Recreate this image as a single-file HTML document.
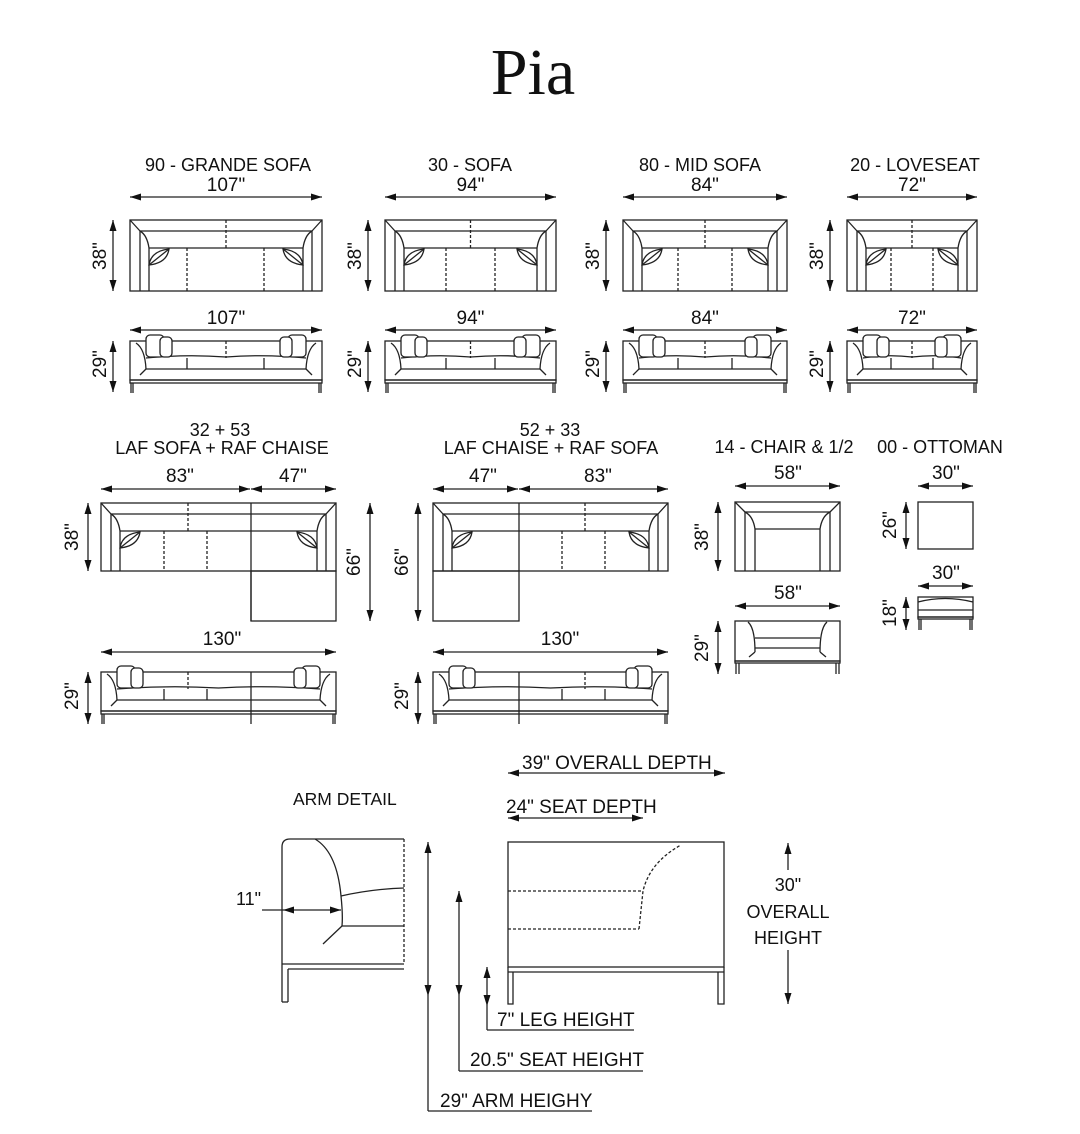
<!DOCTYPE html>
<html><head><meta charset="utf-8"><style>
html,body{margin:0;padding:0;background:#fff;width:1080px;height:1134px;overflow:hidden}
svg{display:block}
text{font-family:"Liberation Sans",sans-serif;fill:#111}
</style></head><body>
<svg id="s" width="1080" height="1134" viewBox="0 0 1080 1134" xmlns="http://www.w3.org/2000/svg">
<text x="533" y="94" text-anchor="middle" style="font-family:'Liberation Serif',serif;font-size:66px">Pia</text>
<g font-size="18" text-anchor="middle">
<text x="228" y="171">90 - GRANDE SOFA</text>
<text x="470" y="171">30 - SOFA</text>
<text x="700" y="171">80 - MID SOFA</text>
<text x="915" y="171">20 - LOVESEAT</text>
<text x="220" y="436">32 + 53</text>
<text x="222" y="454">LAF SOFA + RAF CHAISE</text>
<text x="550" y="436">52 + 33</text>
<text x="551" y="454">LAF CHAISE + RAF SOFA</text>
<text x="784" y="453">14 - CHAIR &amp; 1/2</text>
<text x="940" y="453">00 - OTTOMAN</text>
</g>
<g font-size="19" text-anchor="start">
<text x="293" y="805" font-size="17.5">ARM DETAIL</text>
<text x="522" y="769">39" OVERALL DEPTH</text>
<text x="506" y="813">24" SEAT DEPTH</text>
<text x="236" y="905" font-size="18">11"</text>
<text x="497" y="1026">7" LEG HEIGHT</text>
<text x="470" y="1066">20.5" SEAT HEIGHT</text>
<text x="440" y="1107">29" ARM HEIGHY</text>
<text x="788" y="891" text-anchor="middle" font-size="18">30"</text>
<text x="788" y="918" text-anchor="middle" font-size="18">OVERALL</text>
<text x="788" y="944" text-anchor="middle" font-size="18">HEIGHT</text>
</g>
<g id="d" stroke="#222" stroke-width="1.3" fill="none"></g>
</svg>
<script>
(function(){
var g=document.getElementById('d'),S=document.getElementById('s'),NS='http://www.w3.org/2000/svg';
function el(t,a,p){var e=document.createElementNS(NS,t);for(var k in a)e.setAttribute(k,a[k]);(p||g).appendChild(e);return e;}
function L(x1,y1,x2,y2,dash){var a={x1:x1,y1:y1,x2:x2,y2:y2};if(dash)a['stroke-dasharray']='3,2';el('line',a);}
function P(d,dash,f){var a={d:d};if(dash)a['stroke-dasharray']='3,2';if(f){a.fill='#111';a.stroke='none';}el('path',a);}
function R(x,y,w,h){el('rect',{x:x,y:y,width:w,height:h});}
function head(x,y,dx,dy){var l=11,w=3.5;var px=-dy,py=dx;P('M'+x+','+y+'L'+(x-dx*l+px*w)+','+(y-dy*l+py*w)+'L'+(x-dx*l-px*w)+','+(y-dy*l-py*w)+'Z',0,1);}
function HA(x1,x2,y){L(x1,y,x2,y);head(x1,y,-1,0);head(x2,y,1,0);}
function VA(x,y1,y2){L(x,y1,x,y2);head(x,y1,0,-1);head(x,y2,0,1);}
function T(x,y,s,rot,size){var a={x:x,y:y,'text-anchor':'middle','font-size':size||19};if(rot)a.transform='rotate(-90 '+x+' '+y+')';var t=el('text',a,S);t.textContent=s;}
function pillow(cx,cy,flip){var s=flip?-1:1;P('M'+(cx-10*s)+','+(cy+8)+'Q'+(cx-8*s)+','+(cy-6)+' '+(cx+10*s)+','+(cy-8)+'Q'+(cx+8*s)+','+(cy+6)+' '+(cx-10*s)+','+(cy+8)+'Z');P('M'+(cx-10*s)+','+(cy+8)+'L'+(cx+10*s)+','+(cy-8));}
function puff(x,y,w,h){el('rect',{x:x,y:y,width:w,height:h,rx:4,fill:'#fff'});}
function topv(x,y,w,h,Lf,Rt,splits,centers){
 R(x,y,w,h);var a=10,b=11,c=19,e=28;
 var xl=Lf?x+a:x,xr=Rt?x+w-a:x+w,xl2=Lf?x+c:x,xr2=Rt?x+w-c:x+w;
 L(xl,y+b,xr,y+b);L(xl2,y+e,xr2,y+e);
 if(Lf){L(x,y,x+a,y+b);L(x+a,y+b,x+a,y+h);P('M'+(x+a)+','+(y+b)+'Q'+(x+c-2)+','+(y+15)+' '+(x+c)+','+(y+e));L(x+c,y+e,x+c,y+h);pillow(x+29,y+37,0);}
 if(Rt){L(x+w,y,x+w-a,y+b);L(x+w-a,y+b,x+w-a,y+h);P('M'+(x+w-a)+','+(y+b)+'Q'+(x+w-c+2)+','+(y+15)+' '+(x+w-c)+','+(y+e));L(x+w-c,y+e,x+w-c,y+h);pillow(x+w-29,y+37,1);}
 (centers||[]).forEach(function(cx){L(cx,y,cx,y+e,1);});
 (splits||[]).forEach(function(sx){L(sx,y+e,sx,y+h,1);});
}
function frontv(x,y,w,Lf,Rt,splits,centers,bh,lh){
 bh=bh||39;lh=lh||13;
 R(x,y,w,bh);R(x,y+bh,w,3);L(x+1,y+bh+3,x+1,y+bh+lh);L(x+3,y+bh+3,x+3,y+bh+lh);L(x+w-1,y+bh+3,x+w-1,y+bh+lh);L(x+w-3,y+bh+3,x+w-3,y+bh+lh);
 var sl=x+(Lf?16:0),sr=x+w-(Rt?16:0);
 P('M'+sl+','+(y+17)+'Q'+(sl+(sr-sl)/4)+','+(y+13)+' '+((sl+sr)/2)+','+(y+16)+'Q'+(sr-(sr-sl)/4)+','+(y+13)+' '+sr+','+(y+17));
 L(sl,y+28,sr,y+28);
 (centers||[]).forEach(function(cx){L(cx,y,cx,y+17,1);});
 (splits||[]).forEach(function(sx){L(sx,y+17,sx,y+28);});
 if(Lf){P('M'+(x+6)+','+(y+2)+'Q'+(x+15)+','+(y+8)+' '+(x+16)+','+(y+28));L(x+16,y+28,x+10,y+34);
  puff(x+16,y-6,18,22);puff(x+30,y-4,12,20);}
 if(Rt){P('M'+(x+w-6)+','+(y+2)+'Q'+(x+w-15)+','+(y+8)+' '+(x+w-16)+','+(y+28));L(x+w-16,y+28,x+w-10,y+34);
  puff(x+w-34,y-6,18,22);puff(x+w-42,y-4,12,20);}
}
var row=[[130,322,'107"',[187,264]],[385,556,'94"',[446,495]],[623,787,'84"',[678,732]],[847,977,'72"',[891,933]]];
row.forEach(function(r){var x=r[0],w=r[1]-r[0],c=(r[0]+r[1])/2;
 HA(x,r[1],197);T(c,191,r[2]);VA(x-17,220,291);T(x-24,256,'38"',1);
 topv(x,220,w,71,1,1,r[3],[c]);
 HA(x,r[1],330);T(c,324,r[2]);VA(x-17,341,392);T(x-24,364,'29"',1);
 frontv(x,341,w,1,1,r[3],[c]);
});
HA(101,250,489);HA(251,336,489);T(180,482,'83"');T(293,482,'47"');
VA(88,503,571);T(78,537,'38"',1);VA(370,503,621);T(360,562,'66"',1);
topv(101,503,235,68,1,1,[164,207],[188]);L(251,503,251,621);R(251,571,85,50);
HA(101,336,652);T(222,645,'130"');VA(88,672,724);T(78,696,'29"',1);
frontv(101,672,235,1,1,[164,207],[188]);L(251,672,251,724);
HA(433,518,489);HA(519,668,489);T(483,482,'47"');T(598,482,'83"');
VA(418,503,621);T(408,562,'66"',1);
topv(433,503,235,68,1,1,[562,605],[585]);L(519,503,519,571);R(433,571,86,50);
HA(433,668,652);T(560,645,'130"');VA(418,672,724);T(408,696,'29"',1);
frontv(433,672,235,1,1,[562,605],[585]);L(519,672,519,724);
HA(735,840,486);T(788,479,'58"');VA(718,502,571);T(708,537,'38"',1);
R(735,502,105,69);L(735,502,745,512);L(840,502,830,512);L(745,512,830,512);L(755,529,820,529);
L(745,512,745,571);L(830,512,830,571);L(755,529,755,571);L(820,529,820,571);
P('M745,512Q753,516 755,529');P('M830,512Q822,516 820,529');
HA(735,840,606);T(788,599,'58"');VA(718,621,674);T(708,648,'29"',1);
R(735,621,105,40);R(735,661,105,2);L(736,663,736,674);L(739,663,739,674);L(839,663,839,674);L(836,663,836,674);
P('M748,622Q755,628 755,652');P('M827,622Q820,628 820,652');L(755,638,820,638);L(755,648,820,648);L(755,652,749,657);L(820,652,826,657);
HA(918,973,486);T(946,479,'30"');VA(906,502,549);T(896,525,'26"',1);R(918,502,55,47);
HA(918,973,586);T(946,579,'30"');VA(906,597,630);T(896,613,'18"',1);
P('M918,602Q945,595 973,602');R(918,597,55,20);L(918,610,973,610);R(918,617,55,2);L(919,619,919,630);L(921,619,921,630);L(972,619,972,630);L(970,619,970,630);
P('M282,1002V847Q282,839 290,839H404');L(404,839,404,962,1);L(282,964,404,964);L(288,969,404,969);L(288,969,288,1002);L(282,1002,288,1002);
P('M315,839Q337,852 341,896Q343,915 342,926');P('M341,896Q372,889 404,888');L(342,926,404,926);L(342,926,323,944);
L(262,910,341,910);head(283,910,-1,0);head(341,910,1,0);
R(508,842,216,125);L(508,972,724,972);P('M508,967V1004H513V972M724,967V1004H718V972');
L(508,891,643,891,1);L(508,929,639,929,1);P('M639,929L643,891Q650,862 681,845',1);
HA(508,725,773);
L(508,818,643,818);head(508,818,-1,0);head(643,818,1,0);
VA(428,842,996);L(428,996,428,1111);L(428,1111,592,1111);
VA(459,891,996);L(459,996,459,1071);L(459,1071,643,1071);
VA(487,967,1006);L(487,1006,487,1030);L(487,1030,634,1030);
L(788,843,788,870);head(788,843,0,-1);L(788,950,788,1004);head(788,1004,0,1);
})();
</script>
</body></html>
